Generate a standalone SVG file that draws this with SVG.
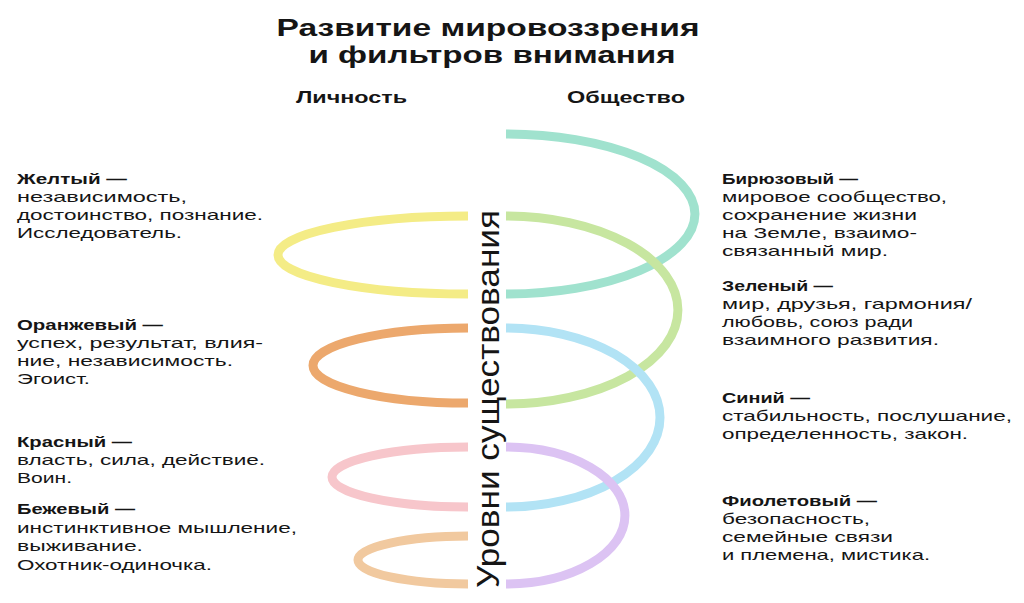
<svg xmlns="http://www.w3.org/2000/svg" width="1024" height="603" viewBox="0 0 1024 603">
<style>
  .t{font-family:"Liberation Sans","DejaVu Sans",sans-serif;fill:#151515}
  .title{font-size:23px;font-weight:bold}
  .head{font-size:16px;font-weight:bold}
  .h{font-size:15px;font-weight:bold}
  .b{font-size:15px}
  .v{font-size:32px}
  .loop{fill:none;stroke-width:9;stroke-linecap:butt}
</style>
<rect width="1024" height="603" fill="#ffffff"/>
<g id="title">
  <text class="t title" x="488" y="36" text-anchor="middle" textLength="423" lengthAdjust="spacingAndGlyphs">Развитие мировоззрения</text>
  <text class="t title" x="492" y="63" text-anchor="middle" textLength="367" lengthAdjust="spacingAndGlyphs">и фильтров внимания</text>
  <text class="t head" x="296" y="103" textLength="111" lengthAdjust="spacingAndGlyphs">Личность</text>
  <text class="t head" x="567" y="103" textLength="118" lengthAdjust="spacingAndGlyphs">Общество</text>
</g>
<g id="connectors">
  <path class="loop" stroke="#a0e2ce" d="M506,134 A189,80 0 0 1 506,294"/>
  <path class="loop" stroke="#c7e6a0" d="M506,216 A172,94 0 0 1 506,404"/>
  <path class="loop" stroke="#b2e3f5" d="M506,328 A154,89.5 0 0 1 506,507"/>
  <path class="loop" stroke="#dcc3f3" d="M506,447 A119,68.5 0 0 1 506,584"/>
  <path class="loop" stroke="#f4ec86" d="M468,216 A190,39 0 0 0 468,294"/>
  <path class="loop" stroke="#eca86d" d="M468,328 A155,37.5 0 0 0 468,403"/>
  <path class="loop" stroke="#f7c6cb" d="M468,447 A136,30 0 0 0 468,507"/>
  <path class="loop" stroke="#f1c99f" d="M468,536 A110,24 0 0 0 468,584"/>
</g>
<g id="axis">
  <text class="t v" transform="translate(499,588) rotate(-90)" textLength="378" lengthAdjust="spacingAndGlyphs">Уровни существования</text>
</g>
<g id="yellow">
  <text class="t h" x="17" y="184" textLength="110" lengthAdjust="spacingAndGlyphs">Желтый —</text>
  <text class="t b" x="17" y="202" textLength="170" lengthAdjust="spacingAndGlyphs">независимость,</text>
  <text class="t b" x="17" y="220" textLength="246" lengthAdjust="spacingAndGlyphs">достоинство, познание.</text>
  <text class="t b" x="17" y="238" textLength="165" lengthAdjust="spacingAndGlyphs">Исследователь.</text>
</g>
<g id="orange">
  <text class="t h" x="17" y="330" textLength="146" lengthAdjust="spacingAndGlyphs">Оранжевый —</text>
  <text class="t b" x="17" y="348" textLength="246" lengthAdjust="spacingAndGlyphs">успех, результат, влия-</text>
  <text class="t b" x="17" y="366" textLength="216" lengthAdjust="spacingAndGlyphs">ние, независимость.</text>
  <text class="t b" x="17" y="384" textLength="73" lengthAdjust="spacingAndGlyphs">Эгоист.</text>
</g>
<g id="red">
  <text class="t h" x="17" y="447" textLength="115" lengthAdjust="spacingAndGlyphs">Красный —</text>
  <text class="t b" x="17" y="465" textLength="248" lengthAdjust="spacingAndGlyphs">власть, сила, действие.</text>
  <text class="t b" x="17" y="483" textLength="55" lengthAdjust="spacingAndGlyphs">Воин.</text>
</g>
<g id="beige">
  <text class="t h" x="17" y="514" textLength="118" lengthAdjust="spacingAndGlyphs">Бежевый —</text>
  <text class="t b" x="17" y="533" textLength="280" lengthAdjust="spacingAndGlyphs">инстинктивное мышление,</text>
  <text class="t b" x="17" y="551" textLength="126" lengthAdjust="spacingAndGlyphs">выживание.</text>
  <text class="t b" x="17" y="570" textLength="195" lengthAdjust="spacingAndGlyphs">Охотник-одиночка.</text>
</g>
<g id="turquoise">
  <text class="t h" x="722" y="184" textLength="136" lengthAdjust="spacingAndGlyphs">Бирюзовый —</text>
  <text class="t b" x="722" y="202" textLength="225" lengthAdjust="spacingAndGlyphs">мировое сообщество,</text>
  <text class="t b" x="722" y="220" textLength="195" lengthAdjust="spacingAndGlyphs">сохранение жизни</text>
  <text class="t b" x="722" y="238" textLength="195" lengthAdjust="spacingAndGlyphs">на Земле, взаимо-</text>
  <text class="t b" x="722" y="256" textLength="166" lengthAdjust="spacingAndGlyphs">связанный мир.</text>
</g>
<g id="green">
  <text class="t h" x="722" y="291" textLength="111" lengthAdjust="spacingAndGlyphs">Зеленый —</text>
  <text class="t b" x="722" y="309" textLength="250" lengthAdjust="spacingAndGlyphs">мир, друзья, гармония/</text>
  <text class="t b" x="722" y="327" textLength="191" lengthAdjust="spacingAndGlyphs">любовь, союз ради</text>
  <text class="t b" x="722" y="345" textLength="217" lengthAdjust="spacingAndGlyphs">взаимного развития.</text>
</g>
<g id="blue">
  <text class="t h" x="722" y="403" textLength="88" lengthAdjust="spacingAndGlyphs">Синий —</text>
  <text class="t b" x="722" y="421" textLength="290" lengthAdjust="spacingAndGlyphs">стабильность, послушание,</text>
  <text class="t b" x="722" y="439" textLength="246" lengthAdjust="spacingAndGlyphs">определенность, закон.</text>
</g>
<g id="violet">
  <text class="t h" x="722" y="506" textLength="155" lengthAdjust="spacingAndGlyphs">Фиолетовый —</text>
  <text class="t b" x="722" y="524" textLength="148" lengthAdjust="spacingAndGlyphs">безопасность,</text>
  <text class="t b" x="722" y="542" textLength="171" lengthAdjust="spacingAndGlyphs">семейные связи</text>
  <text class="t b" x="722" y="560" textLength="208" lengthAdjust="spacingAndGlyphs">и племена, мистика.</text>
</g>
</svg>
